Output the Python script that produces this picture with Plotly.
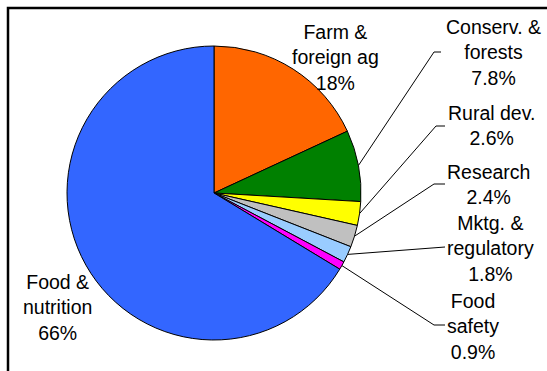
import math
import plotly.graph_objects as go

# ---- data ----
categories = ["Farm & foreign ag", "Conserv. & forests", "Rural dev.", "Research",
              "Mktg. & regulatory", "Food safety", "Food & nutrition"]
label_texts = ["Farm &<br>foreign ag", "Conserv. &<br>forests", "Rural dev.", "Research",
               "Mktg. &<br>regulatory", "Food<br>safety", "Food &<br>nutrition"]
values = [18, 7.8, 2.6, 2.4, 1.8, 0.9, 66]
value_labels = ["18%", "7.8%", "2.6%", "2.4%", "1.8%", "0.9%", "66%"]
colors = ["#FF6600", "#008000", "#FFFF00", "#C0C0C0", "#99CCFF", "#FF00FF", "#3366FF"]

# ---- layout (pixels) ----
W, H = 547, 371
cx, cy, R = 214, 193, 147
# label block centres (pixel) and leader line geometry
label_pos = [(335, 57), (493, 53), (492, 125), (488, 185), (490, 248), (473, 326), (57.5, 307)]
leader_elbow = [None, (434, 52), (436, 126), (434, 184), None, (434, 325), None]
leader_end = [None, (441, 52), (445, 126), (445, 184), (445, 247), (445, 325), None]

def px(x):
    return x / W

def py(y):
    return 1 - y / H

fig = go.Figure(go.Pie(
    labels=categories, values=values, sort=False, direction="clockwise", rotation=0,
    marker=dict(colors=colors, line=dict(color="black", width=1)),
    textinfo="none", hoverinfo="label+percent", showlegend=False,
    domain=dict(x=[px(cx - R), px(cx + R)], y=[py(cy + R), py(cy - R)]),
))

total = sum(values)
shapes = [dict(type="rect", xref="paper", yref="paper",
               x0=px(8), x1=px(W + 20), y0=py(H + 20), y1=py(8),
               line=dict(color="black", width=2.5), fillcolor="rgba(0,0,0,0)")]
annotations = []
cum = 0
for i, v in enumerate(values):
    mid = (cum + v / 2) / total * 2 * math.pi
    cum += v
    sx = cx + R * math.sin(mid)
    sy = cy - R * math.cos(mid)
    if leader_end[i] is not None:
        pts = [(sx, sy)]
        if leader_elbow[i] is not None:
            pts.append(leader_elbow[i])
        pts.append(leader_end[i])
        path = "M " + " L ".join(f"{px(a)},{py(b)}" for a, b in pts)
        shapes.append(dict(type="path", xref="paper", yref="paper", path=path,
                           line=dict(color="black", width=1)))
    lx, ly = label_pos[i]
    annotations.append(dict(
        x=px(lx), y=py(ly), xref="paper", yref="paper", showarrow=False,
        text=f"{label_texts[i]}<br>{value_labels[i]}", align="center",
        xanchor="center", yanchor="middle",
        font=dict(family="Liberation Sans, Arial, sans-serif", size=19.5, color="black"),
    ))

fig.update_layout(
    width=W, height=H, margin=dict(l=0, r=0, t=0, b=0),
    paper_bgcolor="white", plot_bgcolor="white",
    shapes=shapes, annotations=annotations,
)

fig.write_html("out.html")
